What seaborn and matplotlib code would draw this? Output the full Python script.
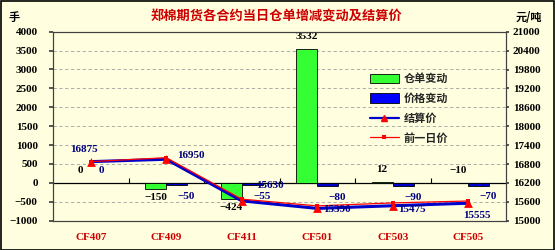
import numpy as np
import pandas as pd
import matplotlib
matplotlib.use("Agg")
import matplotlib.pyplot as plt
from matplotlib.patches import Patch, Rectangle
from matplotlib.lines import Line2D
import seaborn as sns

# ---------------- data ----------------
contracts = ["CF407", "CF409", "CF411", "CF501", "CF503", "CF505"]
warrant_change = [0, -150, -424, 3532, 12, -10]
price_change = [0, -50, -55, -80, -90, -70]
settle_price = [16875, 16950, 15630, 15390, 15475, 15555]
prev_price = [16875, 17000, 15685, 15470, 15565, 15625]
left_ticks = [-1000, -500, 0, 500, 1000, 1500, 2000, 2500, 3000, 3500, 4000]
right_ticks = [15000, 15600, 16200, 16800, 17400, 18000, 18600, 19200, 19800, 20400, 21000]
series_names = ["仓单变动", "价格变动", "结算价", "前一日价"]
title = "郑棉期货各合约当日仓单增减变动及结算价"
left_unit = "手"
right_unit = "元/吨"

# ---------------- style ----------------
BG = "#FFFFE0"
sns.set_theme(style="white")
plt.rcParams["font.family"] = ["Liberation Serif", "Noto Sans CJK SC", "DejaVu Sans"]
plt.rcParams["font.weight"] = "bold"
CJK = ["Noto Sans CJK SC", "DejaVu Sans"]

df = pd.DataFrame({
    "合约": contracts * 2,
    "值": warrant_change + price_change,
    "系列": [series_names[0]] * len(contracts) + [series_names[1]] * len(contracts),
})

fig = plt.figure(figsize=(5.55, 2.5), dpi=100, facecolor=BG)
ax = fig.add_axes([53 / 555, 1 - 220.7 / 250, 453 / 555, 189 / 250])
ax.set_facecolor(BG)

sns.barplot(data=df, x="合约", y="值", hue="系列",
            palette={series_names[0]: "#33FF33", series_names[1]: "#0000CC"},
            width=0.56, saturation=1, edgecolor="black", linewidth=0.6,
            legend=False, ax=ax, zorder=3)

ax.set_xlim(-0.5, len(contracts) - 0.5)
ax.set_ylim(left_ticks[0], left_ticks[-1])
ax.set_yticks(left_ticks)
ax.set_yticklabels([str(t) if t >= 0 else "\u2212" + str(-t) for t in left_ticks],
                   fontsize=8, fontweight="bold", color="black")
ax.yaxis.grid(True, linestyle=(0, (4, 3)), color="#A0A0A0", linewidth=0.6)
ax.set_axisbelow(True)
ax.axhline(0, color="black", linewidth=0.9, zorder=2)
ax.vlines(np.arange(len(contracts) - 1) + 0.5, 0, 130, color="black", linewidth=0.8, zorder=2)
ax.tick_params(axis="y", length=3, pad=8, direction="out", left=True, color="#404040")
ax.tick_params(axis="x", length=0, pad=9)
ax.set_xticks(range(len(contracts)))
ax.set_xticklabels(contracts, fontsize=8, fontweight="bold", color="#CC0000")
ax.set_xlabel("")
ax.set_ylabel("")
for s in ax.spines.values():
    s.set_color("#404040")
    s.set_linewidth(0.8)

# bar value labels
bars_w = ax.containers[0]
bars_p = ax.containers[1]
for rect, v in zip(bars_w, warrant_change):
    cx = rect.get_x() + rect.get_width() / 2
    if v > -100:
        ax.annotate(str(v).replace("-", "\u2212"), (cx, max(v, 0)), xytext=(0, 6),
                    textcoords="offset points", ha="center", va="bottom",
                    fontsize=8, fontweight="bold", color="black", zorder=5)
    else:
        ax.annotate(str(v).replace("-", "\u2212"), (cx, v), xytext=(0, -3),
                    textcoords="offset points", ha="center", va="top",
                    fontsize=8, fontweight="bold", color="black", zorder=5)
for rect, v in zip(bars_p, price_change):
    cx = rect.get_x() + rect.get_width() / 2
    if v == 0:
        ax.annotate("0", (cx, 0), xytext=(0, 6), textcoords="offset points",
                    ha="center", va="bottom", fontsize=8, fontweight="bold",
                    color="#000080", zorder=5)
    else:
        ax.annotate(str(v).replace("-", "\u2212"), (cx, v), xytext=(7, -5),
                    textcoords="offset points", ha="center", va="top",
                    fontsize=8, fontweight="bold", color="#000080", zorder=5)

# price lines
ax2 = ax.twinx()
ax2.set_zorder(ax.get_zorder() + 1)
ax2.patch.set_visible(False)
xs = np.arange(len(contracts))
sns.lineplot(x=xs, y=settle_price, ax=ax2, color="#0000CC", linewidth=2.2, zorder=3)
sns.lineplot(x=xs, y=prev_price, ax=ax2, color="#FF0000", linewidth=0.9,
             marker="s", markersize=2.5, markeredgewidth=0, zorder=4)
sns.scatterplot(x=xs, y=settle_price, ax=ax2, color="#FF0000", marker="^",
                s=40, edgecolor="#FF0000", linewidth=0, zorder=5)
ax2.set_ylim(right_ticks[0], right_ticks[-1])
ax2.set_yticks(right_ticks)
ax2.set_yticklabels([str(t) for t in right_ticks], fontsize=8, fontweight="bold", color="black")
ax2.tick_params(axis="y", length=2, pad=3, right=True, color="#404040")
ax2.set_ylabel("")
for s in ax2.spines.values():
    s.set_color("#404040")
    s.set_linewidth(0.8)

label_offsets = [(-5, 9), (18, 3), (20, 11), (14, -1), (14, -3), (6, -9)]
for xi, v, off in zip(xs, settle_price, label_offsets):
    ax2.annotate(str(v), (xi, v), xytext=off, textcoords="offset points",
                 ha="center", va="center", fontsize=8, fontweight="bold",
                 color="#000080", zorder=6)

# legend
handles = [
    Patch(facecolor="#33FF33", edgecolor="black", linewidth=0.6),
    Patch(facecolor="#0000FF", edgecolor="black", linewidth=0.6),
    Line2D([], [], color="#0000CC", linewidth=1.6, marker="^", markersize=5,
           markerfacecolor="#FF0000", markeredgecolor="#FF0000"),
    Line2D([], [], color="#FF0000", linewidth=0.9, marker="s", markersize=2.5,
           markerfacecolor="#FF0000", markeredgewidth=0),
]
leg = ax2.legend(handles, series_names, loc="upper left", bbox_to_anchor=(0.69, 0.81),
                 frameon=False, handlelength=2.6, handleheight=0.9, labelspacing=0.62,
                 handletextpad=0.4, borderaxespad=0,
                 prop={"family": CJK, "weight": "bold", "size": 8})

# titles and units
fig.text(276 / 555, 1 - 17 / 250, title, ha="center", va="center", color="#CC0000",
         fontsize=9.5, fontweight="bold", family=CJK)
fig.text(14 / 555, 1 - 17 / 250, left_unit, ha="center", va="center", color="black",
         fontsize=8, fontweight="bold", family=CJK)
fig.text(529 / 555, 1 - 17 / 250, right_unit, ha="center", va="center", color="black",
         fontsize=8, fontweight="bold", family=CJK)

fig.patches.append(Rectangle((0.001, 0.002), 0.997, 0.995, transform=fig.transFigure,
                             fill=False, edgecolor="black", linewidth=1.2))

fig.savefig("out.png", dpi=100, facecolor=BG)
